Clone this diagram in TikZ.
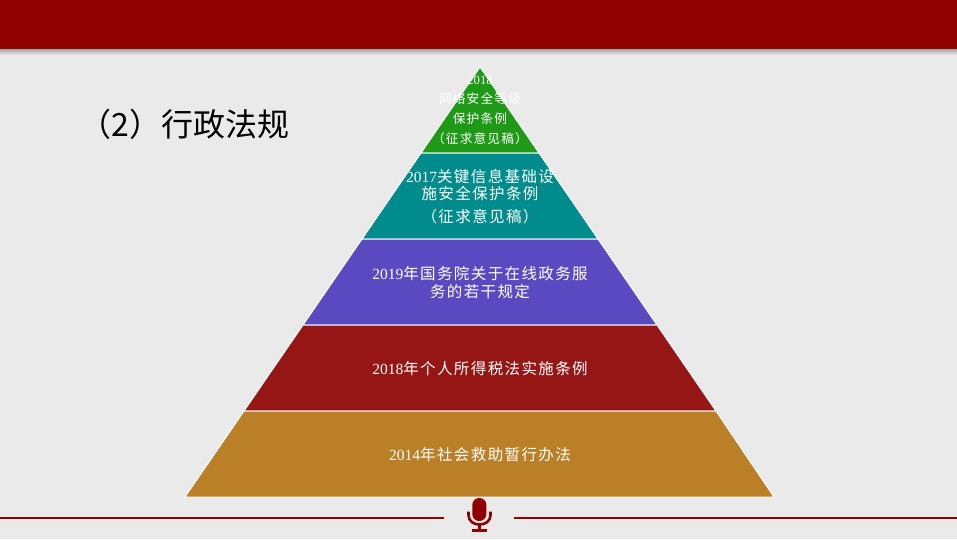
\documentclass[tikz,border=0pt]{standalone}
\usepackage{fontspec}
\setmainfont{Liberation Serif}
\newfontfamily\cjk{Noto Sans CJK SC}[LetterSpace=9]
\newfontfamily\cjktitle{Noto Sans CJK SC}

\begin{document}
\begin{tikzpicture}[x = 1pt, y = -1pt, line width = 1pt,
								layer/.style = {draw = white, line width = 1pt},
								tier/.style = {text = white, align = center, inner sep = 0pt,
								font = \fontsize{15.5}{15}\selectfont\cjk},
								rule/.style = {draw = barred, line width = 2pt},
								micline/.style = {draw = barred, line width = 2.6pt}]
				\definecolor{backgray}{HTML}{EAEAEA}
				\definecolor{barred}{HTML}{8F0000}
				\definecolor{tiergreen}{HTML}{1F9A17}
				\definecolor{tierteal}{HTML}{008C8C}
				\definecolor{tierblue}{HTML}{5B49C1}
				\definecolor{tierred}{HTML}{961616}
				\definecolor{tiergold}{HTML}{BB8027}

				\useasboundingbox (0,0) rectangle (957,539);
				\fill [backgray] (0,0) rectangle (957,539);

				% top bar
				\shade [top color = black!30!backgray, bottom color = backgray] (0,49) rectangle (957,55);
				\fill [barred] (0,0) rectangle (957,49);

				\node [inner sep = 0pt, anchor = west, font = \fontsize{32}{32}\selectfont\cjktitle] (title) at (79,124) {（2）行政法规};

				% pyramid
				\filldraw [layer, fill = tiergreen] (480,67) -- (539,153) -- (421,153) -- cycle;
				\filldraw [layer, fill = tierteal] (421,153) -- (539,153) -- (598,239) -- (362,239) -- cycle;
				\filldraw [layer, fill = tierblue] (362,239) -- (598,239) -- (657,325) -- (303,325) -- cycle;
				\filldraw [layer, fill = tierred] (303,325) -- (657,325) -- (716,411) -- (244,411) -- cycle;
				\filldraw [layer, fill = tiergold] (244,411) -- (716,411) -- (774,497) -- (185,497) -- cycle;

				\node [tier, font = \fontsize{12.7}{14}\selectfont\cjk] (t_1) at (480,110) {{\rmfamily 2018}\\[5.7pt] 网络安全等级\\[5.7pt] 保护条例\\[5.7pt] （征求意见稿）};
				\node [tier] (t_2) at (480,197) {{\rmfamily 2017}关键信息基础设\\[2pt] 施安全保护条例\\[8pt] （征求意见稿）};
				\node [tier] (t_3) at (480,283) {{\rmfamily 2019}年国务院关于在线政务服\\[3pt] 务的若干规定};
				\node [tier] (t_4) at (480,369) {{\rmfamily 2018}年个人所得税法实施条例};
				\node [tier] (t_5) at (480,455) {{\rmfamily 2014}年社会救助暂行办法};

				% bottom rule and microphone
				\coordinate (r_1) at (0,518);
				\coordinate (r_2) at (444,518);
				\coordinate (r_3) at (514,518);
				\coordinate (r_4) at (957,518);
				\draw [rule] (r_1) -- (r_2);
				\draw [rule] (r_3) -- (r_4);

				\fill [barred, rounded corners = 6.9pt] (472.3,498) rectangle (486.3,521);
				\draw [micline] (468.5,511.7) -- (468.5,515) .. controls (468.5,527.7) and (490.5,527.7) .. (490.5,515) -- (490.5,511.7);
				\draw [micline] (479.5,525) -- (479.5,530);
				\draw [micline] (471.7,530.3) -- (487.3,530.3);
			\end{tikzpicture}
\end{document}
